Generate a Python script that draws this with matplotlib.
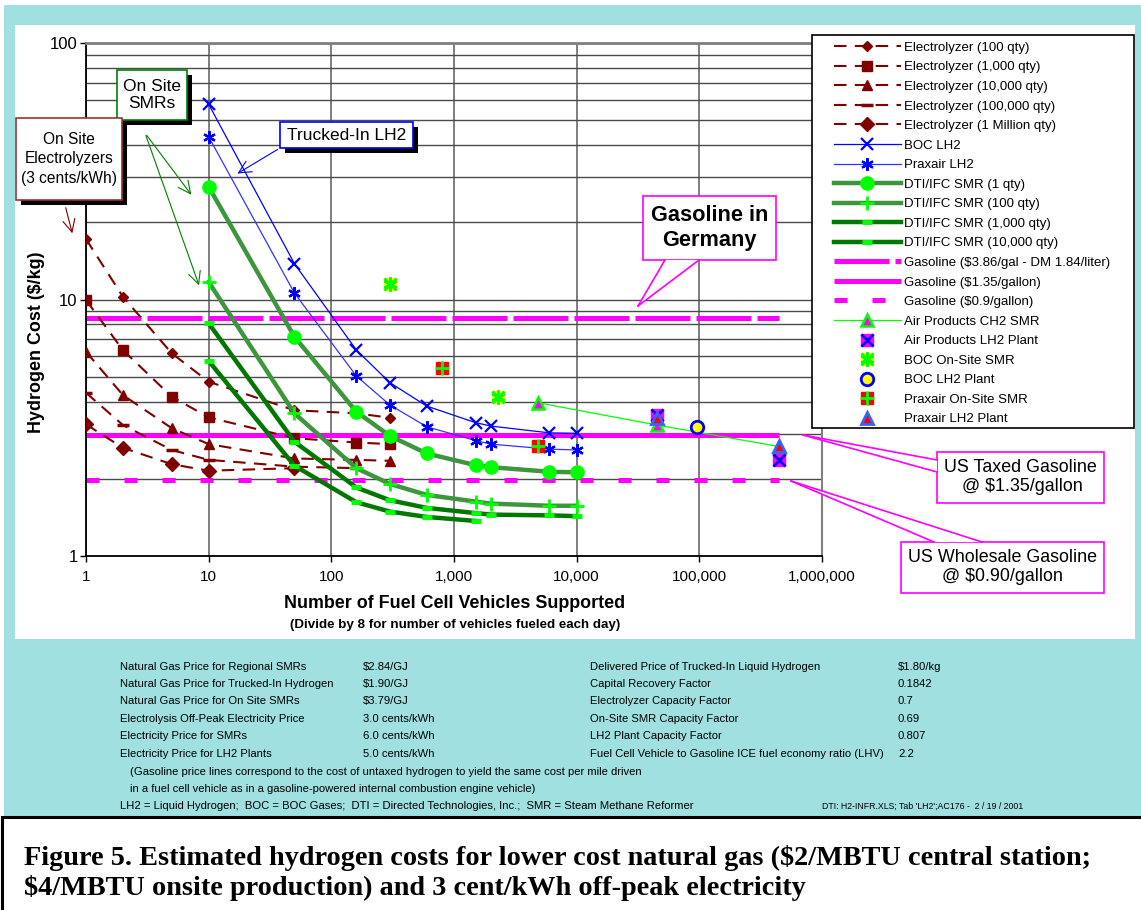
import matplotlib
matplotlib.use('Agg')
import matplotlib.pyplot as plt
from matplotlib.patches import Rectangle, Polygon, FancyArrowPatch
from matplotlib.ticker import FixedLocator, FixedFormatter, LogLocator, NullLocator

plt.rcParams['font.family'] = ['Liberation Sans', 'DejaVu Sans']

W, H = 1141, 910

# electrolyzer costs ($/kg) by number of vehicles supported
elec_x = [1, 2, 5, 10, 50, 160, 300]
elec_100 = [17.2, 10.25, 6.17, 4.78, 3.7, 3.6, 3.46]
elec_1000 = [9.95, 6.35, 4.18, 3.47, 2.88, 2.77, 2.73]
elec_10000 = [6.26, 4.24, 3.15, 2.73, 2.40, 2.37, 2.35]
elec_100000_x = [1, 2, 5, 10, 50, 160]
elec_100000 = [4.33, 3.24, 2.59, 2.37, 2.23, 2.2]
elec_1m_x = [1, 2, 5, 10, 50]
elec_1m = [3.26, 2.64, 2.28, 2.15, 2.2]

# trucked-in LH2 and on-site SMR curves
lh2_x = [10, 50, 160, 300, 600, 1500, 2000, 6000, 10000]
boc_lh2 = [57.7, 13.8, 6.35, 4.74, 3.84, 3.31, 3.21, 3.02, 3.01]
praxair_lh2 = [43.1, 10.6, 5.03, 3.88, 3.19, 2.82, 2.73, 2.61, 2.59]
dti_1 = [27.5, 7.16, 3.65, 2.94, 2.51, 2.26, 2.22, 2.13, 2.12]
dti_100 = [11.7, 3.6, 2.20, 1.91, 1.73, 1.63, 1.60, 1.57, 1.57]
dti_1000 = [8.08, 2.79, 1.85, 1.65, 1.54, 1.47, 1.45, 1.44, 1.43]
dti_10000_x = [10, 50, 160, 300, 600, 1500]
dti_10000 = [5.76, 2.25, 1.62, 1.49, 1.42, 1.37]

# gasoline equivalents
gas_x = [1, 450000]
gas_germany = [8.47, 8.47]
gas_taxed = [2.95, 2.95]
gas_wholesale = [1.98, 1.98]

# individual plant estimates
ap_ch2_x = [4800, 45000, 450000]
ap_ch2 = [3.96, 3.24, 2.67]
ap_lh2_x = [45000, 450000]
ap_lh2 = [3.55, 2.37]
boc_smr_x = [300, 2300]
boc_smr = [11.5, 4.16]
boc_plant_x = [95000]
boc_plant = [3.19]
prax_smr_x = [800, 4800]
prax_smr = [5.39, 2.69]
prax_plant_x = [45000, 450000]
prax_plant = [3.44, 2.69]

x_ticks = [1, 10, 100, 1000, 10000, 100000, 1000000]
x_tick_labels = ['1', '10', '100', '1,000', '10,000', '100,000', '1,000,000']
y_ticks = [1, 10, 100]
y_tick_labels = ['1', '10', '100']

left_labels = ['Natural Gas Price for Regional SMRs', 'Natural Gas Price for Trucked-In Hydrogen',
               'Natural Gas Price for On Site SMRs', 'Electrolysis Off-Peak Electricity Price',
               'Electricity Price for SMRs', 'Electricity Price for LH2 Plants']
left_values = ['$2.84/GJ', '$1.90/GJ', '$3.79/GJ', '3.0 cents/kWh', '6.0 cents/kWh', '5.0 cents/kWh']
right_labels = ['Delivered Price of Trucked-In Liquid Hydrogen', 'Capital Recovery Factor',
                'Electrolyzer Capacity Factor', 'On-Site SMR Capacity Factor',
                'LH2 Plant Capacity Factor', 'Fuel Cell Vehicle to Gasoline ICE fuel economy ratio (LHV)']
right_values = ['$1.80/kg', '0.1842', '0.7', '0.69', '0.807', '2.2']

CYAN = '#a0e0e0'
DRED = '#800000'
MAG = '#ff00ff'
LIME = '#00ff00'
MGREEN = '#3d963d'
DGREEN = '#007800'
TFS = 8.1  # table font size


def fx(px):
    return px / W


def fy(py):
    return 1 - py / H


def rect(x0, y0, x1, y1, **kw):
    r = Rectangle((fx(x0), fy(y1)), (x1 - x0) / W, (y1 - y0) / H, transform=fig.transFigure, **kw)
    fig.add_artist(r)
    return r


def box(x0, y0, x1, y1, edge, shadow=True):
    if shadow:
        rect(x0 + 5, y0 + 5, x1 + 5, y1 + 5, fc='black', ec='none', zorder=6)
    rect(x0, y0, x1, y1, fc='white', ec=edge, lw=1.2, zorder=7)


def arrow(p0, p1, color):
    a = FancyArrowPatch((fx(p0[0]), fy(p0[1])), (fx(p1[0]), fy(p1[1])), transform=fig.transFigure,
                        arrowstyle='->,head_length=0.45,head_width=0.22', mutation_scale=20,
                        color=color, lw=0.8, zorder=8)
    fig.add_artist(a)


def wedge(base0, base1, tip, color):
    fig.add_artist(Polygon([(fx(base0[0]), fy(base0[1])), (fx(base1[0]), fy(base1[1])),
                            (fx(tip[0]), fy(tip[1]))], closed=True, transform=fig.transFigure,
                           fc='white', ec='none', zorder=7.5))
    for b in (base0, base1):
        fig.add_artist(plt.Line2D([fx(b[0]), fx(tip[0])], [fy(b[1]), fy(tip[1])],
                                  transform=fig.transFigure, color=color, lw=1.2, zorder=8))


fig = plt.figure(figsize=(W / 100, H / 100), dpi=100)
fig.patch.set_facecolor('white')
rect(4, 5, W + 5, 816, fc=CYAN, ec='none', zorder=-3)
rect(15, 25, 1135, 639, fc='white', ec='none', zorder=-2)

ax = fig.add_axes([fx(86), fy(556), (822 - 86) / W, (556 - 43) / H])
ax.set_facecolor('white')
ax.set_xscale('log')
ax.set_yscale('log')
ax.set_xlim(1, 1000000)
ax.set_ylim(1, 100)

# gasoline reference lines
h_germany, = ax.plot(gas_x, gas_germany, color=MAG, lw=3.6, dashes=(11, 1.2), solid_capstyle='butt',
                     dash_capstyle='butt', zorder=2)
h_taxed, = ax.plot(gas_x, gas_taxed, color=MAG, lw=3.6, solid_capstyle='butt', zorder=2)
h_whole, = ax.plot(gas_x, gas_wholesale, color=MAG, lw=3.6, dashes=(2.6, 5.0), dash_capstyle='butt',
                   zorder=2)

# electrolyzers
ekw = dict(color=DRED, lw=1.5, dashes=(6, 4), mfc=DRED, mec=DRED, zorder=3)
h_e100, = ax.plot(elec_x, elec_100, marker='D', ms=5.5, **ekw)
h_e1000, = ax.plot(elec_x, elec_1000, marker='s', ms=7.5, **ekw)
h_e10000, = ax.plot(elec_x, elec_10000, marker='^', ms=7.5, **ekw)
h_e100000, = ax.plot(elec_100000_x, elec_100000, marker='_', ms=8, mew=2.5, **ekw)
h_e1m, = ax.plot(elec_1m_x, elec_1m, marker='D', ms=7.5, **ekw)

# trucked-in liquid hydrogen
h_boc, = ax.plot(lh2_x, boc_lh2, color='#0000ff', lw=0.9, marker='x', ms=9, mew=1.6, zorder=3)
h_prax, = ax.plot(lh2_x, praxair_lh2, color='#3333ff', lw=0.9, marker=(6, 2, 0), ms=9, mew=1.6,
                  mec='#0000ff', zorder=3)

# on-site SMRs
h_d1, = ax.plot(lh2_x, dti_1, color=MGREEN, lw=3.2, marker='o', ms=9.5, mfc=LIME, mec=LIME, zorder=3)
h_d100, = ax.plot(lh2_x, dti_100, color=MGREEN, lw=3.2, marker='+', ms=10, mew=2, mec=LIME, zorder=3)
h_d1000, = ax.plot(lh2_x, dti_1000, color=DGREEN, lw=3.2, marker='_', ms=7, mew=3.5, mec=LIME, zorder=3)
h_d10000, = ax.plot(dti_10000_x, dti_10000, color=DGREEN, lw=3.2, marker='_', ms=7, mew=3.5, mec=LIME,
                    zorder=3)

# plant estimates
h_apc, = ax.plot(ap_ch2_x, ap_ch2, color=LIME, lw=0.9, marker='^', ms=9, mfc=MAG, mec=LIME, mew=1.8,
                 zorder=4)
h_apl_a, = ax.plot(ap_lh2_x, ap_lh2, ls='none', marker='s', ms=9, mfc=MAG, mec=MAG, zorder=4)
h_apl_b, = ax.plot(ap_lh2_x, ap_lh2, ls='none', marker='x', ms=9, mew=2, color='#0000ff', zorder=4)
h_bsm_a, = ax.plot(boc_smr_x, boc_smr, ls='none', marker='s', ms=9, mfc='#ffff00', mec='#ffff00', zorder=4)
h_bsm_b, = ax.plot(boc_smr_x, boc_smr, ls='none', marker=(6, 2, 0), ms=10, mew=2, color=LIME, zorder=4)
h_bsm_c, = ax.plot(boc_smr_x, boc_smr, ls='none', marker='x', ms=9, mew=2, color=LIME, zorder=4)
h_bpl, = ax.plot(boc_plant_x, boc_plant, ls='none', marker='o', ms=9, mfc='#ffff00', mec='#0000ff',
                 mew=2, zorder=4)
h_psm_a, = ax.plot(prax_smr_x, prax_smr, ls='none', marker='s', ms=9, mfc='#ff0000', mec='#ff0000', zorder=4)
h_psm_b, = ax.plot(prax_smr_x, prax_smr, ls='none', marker='+', ms=10, mew=2, color=LIME, zorder=4)
h_ppl, = ax.plot(prax_plant_x, prax_plant, ls='none', marker='^', ms=9, mfc='#ff0000', mec='#3366ff',
                 mew=2, zorder=4)

# axes styling
ax.xaxis.set_major_locator(FixedLocator(x_ticks))
ax.xaxis.set_major_formatter(FixedFormatter(x_tick_labels))
ax.xaxis.set_minor_locator(NullLocator())
ax.yaxis.set_major_locator(FixedLocator(y_ticks))
ax.yaxis.set_major_formatter(FixedFormatter(y_tick_labels))
ax.yaxis.set_minor_locator(LogLocator(base=10, subs=range(2, 10)))
ax.tick_params(axis='y', which='minor', length=0, labelleft=False)
ax.tick_params(axis='both', which='major', direction='out', length=4, width=1, color='black')
ax.tick_params(axis='x', labelsize=11, pad=6)
ax.tick_params(axis='y', labelsize=12, pad=2)
ax.grid(True, axis='y', which='both', color='#4a4a4a', lw=1.0, zorder=0)
ax.grid(True, axis='x', which='major', color='#6a6a6a', lw=1.2, zorder=0)
ax.set_axisbelow(True)
for s in ('left', 'bottom'):
    ax.spines[s].set_color('black')
    ax.spines[s].set_linewidth(1.3)
ax.spines['top'].set_color('#808080')
ax.spines['top'].set_linewidth(2)
ax.spines['right'].set_color('#808080')
ax.spines['right'].set_linewidth(1.5)

fig.text(fx(37), fy(342), 'Hydrogen Cost ($/kg)', rotation=90, ha='center', va='center',
         fontsize=12.9, fontweight='bold')
fig.text(fx(455), fy(604), 'Number of Fuel Cell Vehicles Supported', ha='center', va='center',
         fontsize=12.9, fontweight='bold')
fig.text(fx(455), fy(625), '(Divide by 8 for number of vehicles fueled each day)', ha='center',
         va='center', fontsize=9.6, fontweight='bold')

# legend
rect(812, 35, 1134, 428, fc='white', ec='black', lw=1.2, zorder=4.5)
handles = [h_e100, h_e1000, h_e10000, h_e100000, h_e1m, h_boc, h_prax, h_d1, h_d100, h_d1000, h_d10000,
           h_germany, h_taxed, h_whole, h_apc, (h_apl_a, h_apl_b), (h_bsm_a, h_bsm_b, h_bsm_c), h_bpl,
           (h_psm_a, h_psm_b), h_ppl]
labels = ['Electrolyzer (100 qty)', 'Electrolyzer (1,000 qty)', 'Electrolyzer (10,000 qty)',
          'Electrolyzer (100,000 qty)', 'Electrolyzer (1 Million qty)', 'BOC LH2', 'Praxair LH2',
          'DTI/IFC SMR (1 qty)', 'DTI/IFC SMR (100 qty)', 'DTI/IFC SMR (1,000 qty)',
          'DTI/IFC SMR (10,000 qty)', 'Gasoline ($3.86/gal - DM 1.84/liter)', 'Gasoline ($1.35/gallon)',
          'Gasoline ($0.9/gallon)', 'Air Products CH2 SMR', 'Air Products LH2 Plant', 'BOC On-Site SMR',
          'BOC LH2 Plant', 'Praxair On-Site SMR', 'Praxair LH2 Plant']
leg = fig.legend(handles, labels, loc='upper left', bbox_to_anchor=(fx(827), fy(35)), frameon=False,
                 fontsize=9.5, handlelength=5.08, handletextpad=0.23, labelspacing=0.555, borderpad=0,
                 numpoints=1)
leg.set_zorder(5)

# callout boxes
box(117, 70, 187, 120, '#008000')
fig.text(fx(152), fy(95), 'On Site\nSMRs', ha='center', va='center', fontsize=12.5, zorder=9,
         linespacing=1.15)
arrow((145, 133), (193, 197), '#008000')
arrow((145, 133), (200, 288), '#008000')

box(16, 118, 122, 200, '#993333')
fig.text(fx(69), fy(159), 'On Site\nElectrolyzers\n(3 cents/kWh)', ha='center', va='center',
         fontsize=11.2, zorder=9, linespacing=1.35)
arrow((65, 205), (73, 236), DRED)

box(280, 122, 413, 148, '#0000ff')
fig.text(fx(346.5), fy(135), 'Trucked-In LH2', ha='center', va='center', fontsize=12.5, zorder=9)
arrow((280, 148), (235, 175), '#0000ff')

box(643, 196, 776, 260, MAG, shadow=False)
wedge((665, 260), (699, 260), (638, 306), MAG)
fig.text(fx(709.5), fy(228), 'Gasoline in\nGermany', ha='center', va='center', fontsize=15.7,
         fontweight='bold', zorder=9, linespacing=1.2)

box(937, 452, 1104, 503, MAG, shadow=False)
wedge((937, 460), (937, 472), (803, 435), MAG)
fig.text(fx(1020), fy(477), 'US Taxed Gasoline\n @ $1.35/gallon', ha='center', va='center',
         fontsize=12.9, zorder=9, linespacing=1.2)

box(901, 542, 1104, 593, MAG, shadow=False)
wedge((934, 542), (982, 542), (791, 481), MAG)
fig.text(fx(1002), fy(567), 'US Wholesale Gasoline\n@ $0.90/gallon', ha='center', va='center',
         fontsize=12.9, zorder=9, linespacing=1.2)

# assumptions table
row_y = [667, 684, 701, 719, 736, 754]
for i in range(len(left_labels)):
    fig.text(fx(120), fy(row_y[i]), left_labels[i], fontsize=TFS, va='center')
    fig.text(fx(363), fy(row_y[i]), left_values[i], fontsize=TFS, va='center')
    fig.text(fx(590), fy(row_y[i]), right_labels[i], fontsize=TFS, va='center')
    fig.text(fx(898), fy(row_y[i]), right_values[i], fontsize=TFS, va='center')
fig.text(fx(130), fy(772), '(Gasoline price lines correspond to the cost of untaxed hydrogen to yield '
         'the same cost per mile driven', fontsize=TFS, va='center')
fig.text(fx(130), fy(789), 'in a fuel cell vehicle as in a gasoline-powered internal combustion engine '
         'vehicle)', fontsize=TFS, va='center')
fig.text(fx(120), fy(806), 'LH2 = Liquid Hydrogen;  BOC = BOC Gases;  DTI = Directed Technologies, Inc.;  '
         'SMR = Steam Methane Reformer', fontsize=TFS, va='center')
fig.text(fx(822), fy(806), "DTI: H2-INFR.XLS; Tab 'LH2';AC176 -  2 / 19 / 2001", fontsize=6.3, va='center')

# caption
rect(2, 817, W + 20, H + 20, fc='white', ec='black', lw=2.2, zorder=1)
fig.text(fx(24), fy(858), 'Figure 5. Estimated hydrogen costs for lower cost natural gas ($2/MBTU central '
         'station;', family=['Liberation Serif', 'DejaVu Serif'], fontweight='bold', fontsize=20.3,
         va='center', parse_math=False, zorder=2)
fig.text(fx(24), fy(888), '$4/MBTU onsite production) and 3 cent/kWh off-peak electricity',
         family=['Liberation Serif', 'DejaVu Serif'], fontweight='bold', fontsize=20.3, va='center',
         parse_math=False, zorder=2)

fig.savefig('out.png', dpi=100)
